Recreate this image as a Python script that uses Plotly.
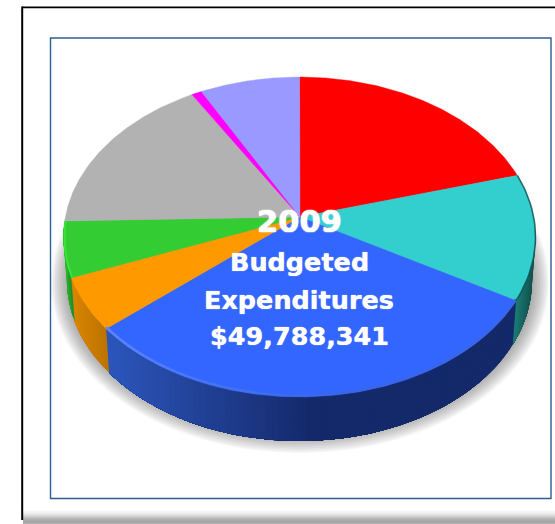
import numpy as np
import plotly.graph_objects as go

# Share of budgeted expenditures, clockwise from 12 o'clock
categories = ["Red", "Teal", "Blue", "Orange", "Green", "Gray", "Magenta", "Lilac"]
shares = [20.6, 12.7, 30.4, 5.3, 5.6, 16.9, 0.8, 7.7]
top_colors = ["#ff0000", "#33cfcf", "#3366ff", "#ff9900", "#33cc33", "#b2b2b2", "#ff00ff", "#9999ff"]
side_left = ["#aa0000", "#1c7f78", "#2c56bd", "#d98600", "#2bb52f", "#777777", "#aa00aa", "#6666aa"]
side_right = ["#aa0000", "#12524e", "#14296a", "#bd7400", "#1f8f28", "#777777", "#aa00aa", "#6666aa"]
text_lines = ["2009", "Budgeted", "Expenditures", "$49,788,341"]

CX, CY = 300.0, 217.0   # apex on the page
RX, RY_BACK, RY_FRONT = 236.0, 140.0, 180.0
DEPTH = 44.0
BASE_SCALE = 0.985

k = (RY_FRONT - RY_BACK) / (RY_FRONT + RY_BACK)
b = RY_BACK * (1 + k)
a = RX * np.sqrt(1 - k * k)


def rim(theta):
    u, v = np.sin(theta), np.cos(theta)
    w = 1 + k * v
    return CX - 0.5 + a * u / w, CY - b * v / w


def lerp_color(c1, c2, t):
    p = [int(c1[i:i + 2], 16) for i in (1, 3, 5)]
    q = [int(c2[i:i + 2], 16) for i in (1, 3, 5)]
    return "rgb(%d,%d,%d)" % tuple(round(x + (y - x) * t) for x, y in zip(p, q))


edges = np.concatenate([[0], np.cumsum(shares)]) / np.sum(shares) * 2 * np.pi
fig = go.Figure()

# side wall, drawn as overlapping strips so that it shades across the slice
STEP = np.radians(1.5)
for i, cat in enumerate(categories):
    t0, t1 = edges[i], edges[i + 1]
    t0v, t1v = max(t0, np.radians(92)), min(t1, np.radians(268))
    if t1v <= t0v:
        continue
    xa, _ = rim(np.array([t0v, t1v]))
    starts = np.arange(t0v, t1v, STEP)
    # every strip runs on to the end of the slice; the next one paints over it
    for s in starts:
        th = np.linspace(s, t1v, max(3, int((t1v - s) / STEP) + 2))
        x, y = rim(th)
        xb = CX - 0.5 + (x - CX + 0.5) * BASE_SCALE
        xm = float(rim(np.array([s]))[0][0])
        if cat == "Blue":
            f = float(np.clip((xm - 107) / (315 - 107), 0, 1))
        else:
            f = float(np.clip((xm - min(xa)) / max(1, abs(xa[1] - xa[0])), 0, 1))
        col = lerp_color(side_left[i], side_right[i], f)
        fig.add_trace(go.Scatter(
            x=np.r_[x, xb[::-1]], y=np.r_[y, y[::-1] + DEPTH],
            mode="lines", fill="toself", fillcolor=col,
            line=dict(width=0), hoverinfo="skip", showlegend=False))

# top face of every slice
for i, cat in enumerate(categories):
    th = np.linspace(edges[i], edges[i + 1], max(4, int((edges[i + 1] - edges[i]) * 90)))
    x, y = rim(th)
    fig.add_trace(go.Scatter(
        x=np.r_[CX, x, CX], y=np.r_[CY, y, CY],
        mode="lines", fill="toself", fillcolor=top_colors[i],
        line=dict(color=top_colors[i], width=0.4),
        name=cat, text=f"{shares[i]}%", hoverinfo="name+text", showlegend=False))

# lighter bevel along the front rim of the blue slice, darker on the teal edge
th = np.linspace(edges[2], edges[3], 120)
x, y = rim(th)
for j in range(0, len(th) - 1, 3):
    f = float(np.clip((x[j] - 107) / (400 - 107), 0, 1))
    fig.add_trace(go.Scatter(
        x=x[j:j + 4], y=y[j:j + 4] - 1.5, mode="lines",
        line=dict(color=lerp_color("#5f88ff", "#3a66e6", 1 - (1 - f) ** 2), width=2.5),
        hoverinfo="skip", showlegend=False))
th = np.linspace(edges[1], edges[2], 30)
x, y = rim(th)
fig.add_trace(go.Scatter(x=x, y=y, mode="lines", line=dict(color="rgba(15,70,70,0.75)", width=1.6),
                         hoverinfo="skip", showlegend=False))
th = np.linspace(edges[4], edges[5], 12)
x, y = rim(th)
fig.add_trace(go.Scatter(x=x + 1, y=y, mode="lines", line=dict(color="#3ae23a", width=2),
                         hoverinfo="skip", showlegend=False))

shapes = []
# soft drop shadow
for s in range(12):
    grow = 13 - s * 1.5
    shapes.append(dict(type="circle", xref="x", yref="y", layer="below",
                       x0=300 - RX - grow, x1=300 + RX + grow,
                       y0=125 - grow, y1=440 + grow,
                       fillcolor="rgba(90,90,90,0.055)", line=dict(width=0)))
# frames
shapes.append(dict(type="rect", xref="x", yref="y", layer="below", x0=50.5, x1=551, y0=38, y1=498.5,
                   line=dict(color="#2f5c93", width=1.4), fillcolor="rgba(0,0,0,0)"))
shapes.append(dict(type="line", xref="x", yref="y", x0=22, x1=555, y0=7.3, y1=7.3,
                   line=dict(color="#000000", width=1.8)))
shapes.append(dict(type="line", xref="x", yref="y", x0=22.2, x1=22.2, y0=6.5, y1=520,
                   line=dict(color="#000000", width=2)))
# grey band along the bottom
band = ["#fafafa", "#f6f6f6", "#f1f1f1", "#ececec", "#e4e4e4", "#dbdbdb", "#d0d0d0",
        "#c4c4c4", "#b9b9b9", "#b0b0b0", "#aaaaaa", "#a6a6a6", "#a8a8a8", "#b0b0b0"]
for n, c in enumerate(band):
    shapes.append(dict(type="rect", xref="x", yref="y", layer="below", x0=23, x1=555,
                       y0=510 + n, y1=511 + n, fillcolor=c, line=dict(width=0)))

ys = [221, 262, 300, 336]
sizes = [30.5, 25.5, 25.5, 25.5]
shadows = ["0 0 1.5px #fff, 0 0 1px #fff", "0 0 1px #fff", "0 0 1px #fff", "0 0 1px #fff"]
annotations = [dict(x=299, y=yy, xref="x", yref="y", text=f"<b>{t}</b>", showarrow=False,
                    font=dict(family="DejaVu Sans", size=sz, color="#ffffff", shadow=sh),
                    xanchor="center", yanchor="middle")
               for t, yy, sz, sh in zip(text_lines, ys, sizes, shadows)]

fig.update_layout(
    width=555, height=524, autosize=False,
    margin=dict(l=0, r=0, t=0, b=0),
    paper_bgcolor="#ffffff", plot_bgcolor="#ffffff",
    showlegend=False, shapes=shapes, annotations=annotations,
    xaxis=dict(range=[0, 555], visible=False, fixedrange=True),
    yaxis=dict(range=[524, 0], visible=False, fixedrange=True),
)
fig.write_html("out.html", config={"displayModeBar": False},
               post_script="document.body.style.margin='0';document.body.style.overflow='hidden';"
                           "document.documentElement.style.overflow='hidden';")
